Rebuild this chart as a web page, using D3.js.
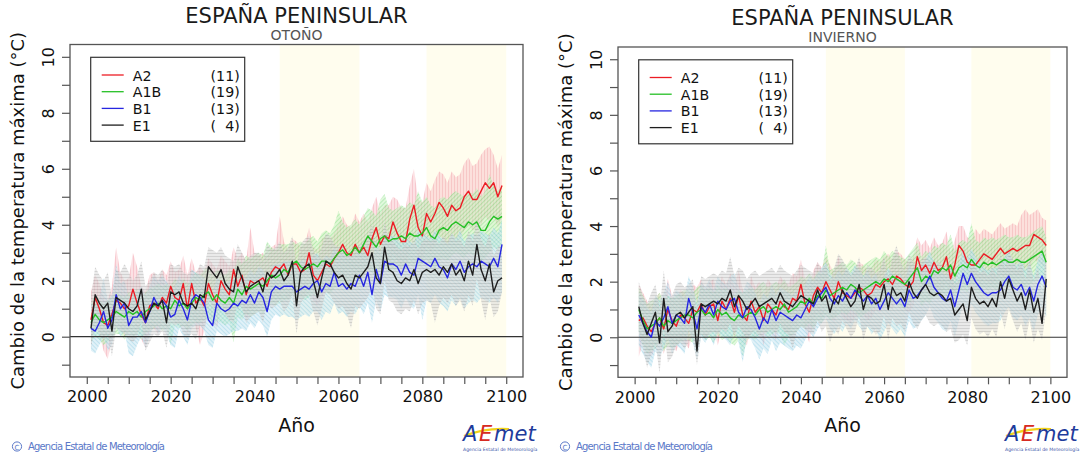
<!DOCTYPE html>
<html>
<head>
<meta charset="utf-8">
<script src="https://cdn.jsdelivr.net/npm/d3@7"></script>
<style>
  body { margin: 0; background: #fff; }
  svg { display: block; }
  text { font-family: 'DejaVu Sans', Verdana, sans-serif; }
</style>
</head>
<body>
<svg id="chart" width="1085" height="458"></svg>
<script>
/* global d3 */

// ---- data ----
const years = d3.range(2001, 2100); // 2001..2099
const scenarios = ['A2', 'A1B', 'B1', 'E1'];
const modelCounts = [11, 19, 13, 4];
const periods = [[2046, 2065], [2081, 2100]];
const xTicks = d3.range(2000, 2101, 5);
const xLabels = [2000, 2020, 2040, 2060, 2080, 2100];
const yTicks = d3.range(-1, 11);
const yLabels = [0, 2, 4, 6, 8, 10];

// OTOÑO
const otonoA2 = [0.6,1.4,1.0,0.5,0.4,0.8,1.3,1.2,1.0,1.1, 1.7,1.2,0.8,0.5,1.1,1.2,1.0,1.4,1.2,1.8, 1.4,1.3,1.9,1.0,1.9,1.2,1.4,1.1,1.9,1.5, 1.2,2.0,1.7,1.5,2.4,1.8,2.2,1.5,2.0,1.9, 2.0,2.1,1.8,2.3,2.5,2.4,2.6,2.2,2.6,2.6, 2.3,2.4,3.0,2.2,2.0,2.3,2.6,2.5,2.8,3.0, 3.3,3.0,2.9,3.3,3.0,3.2,2.9,3.5,3.9,3.3, 3.6,3.5,4.1,3.7,3.4,3.4,4.2,4.7,3.9,3.6, 4.4,4.1,4.4,4.8,4.6,4.3,4.7,4.5,4.6,5.0, 5.2,4.9,4.9,5.2,5.5,5.3,5.5,5.0,5.4];
const otonoA2Hi = [1.6,2.2,1.9,1.4,1.3,1.8,3.2,2.3,2.0,2.1, 3.0,2.5,1.8,1.6,2.2,2.3,2.0,2.4,2.2,2.7, 2.3,2.4,2.9,2.2,2.8,2.3,2.5,2.3,2.8,2.6, 2.4,2.9,2.7,2.5,3.2,2.8,3.0,2.7,3.9,3.0, 2.9,3.0,2.8,3.2,3.3,4.3,3.4,3.1,3.5,3.4, 3.2,3.3,3.9,3.2,3.1,3.5,3.6,3.5,3.7,4.0, 4.3,4.0,3.9,4.4,4.1,4.4,4.1,4.6,5.0,4.4, 4.7,4.7,5.0,4.9,4.6,4.6,5.4,6.0,4.9,4.8, 5.5,5.2,5.6,5.9,5.8,5.5,5.9,5.7,5.8,6.2, 6.4,6.1,6.2,6.5,6.7,6.8,6.5,6.0,6.5];
const otonoA2Lo = [-0.3,0.4,0.1,-0.5,-0.8,-0.1,0.4,0.3,0.0,0.2, 0.6,0.3,-0.1,-0.4,0.2,0.3,0.1,0.5,0.3,0.8, 0.5,0.4,0.9,0.1,0.9,0.3,-0.3,0.2,0.9,0.5, 0.3,1.0,0.8,0.6,1.4,0.9,1.2,0.6,1.0,1.0, 1.1,1.2,0.9,1.3,1.5,1.4,1.6,1.3,1.6,1.6, 1.4,1.5,2.0,1.3,1.1,1.4,1.6,1.6,1.8,2.0, 2.2,2.0,2.0,2.2,2.0,2.2,2.0,2.5,2.8,2.3, 2.6,2.5,3.0,2.7,2.4,2.4,3.1,3.5,2.8,2.6, 3.3,3.0,3.3,3.6,3.5,3.2,3.6,3.4,3.5,3.8, 4.0,3.8,3.8,4.0,4.3,4.1,4.3,3.9,4.2];
const otonoA1B = [0.5,0.8,0.6,0.5,0.6,0.7,0.9,0.8,0.7,0.9, 0.8,0.9,0.7,0.9,1.0,1.1,1.2,1.0,1.1,1.0, 1.3,1.1,1.2,1.0,1.2,1.4,1.3,1.5,1.6,1.3, 1.5,1.3,1.2,1.4,1.2,1.7,1.5,1.8,1.7,1.8, 1.9,1.8,2.0,2.2,2.1,2.2,2.4,2.3,2.6,2.7, 2.5,2.4,2.5,2.6,2.5,2.7,2.7,2.6,2.8,3.0, 3.1,2.9,3.0,3.2,3.0,3.3,3.6,3.4,3.2,3.5, 3.6,3.4,3.5,3.5,3.6,3.5,3.7,3.6,3.6,3.7, 3.9,3.6,3.5,3.8,3.9,3.8,4.0,4.1,4.0,3.9, 4.1,4.0,4.1,3.8,3.8,4.1,4.3,4.2,4.3];
const otonoA1BHi = [1.2,1.5,1.3,1.2,1.3,1.4,1.6,1.5,1.4,1.6, 1.5,1.7,1.4,1.6,1.7,1.8,1.9,1.8,1.9,1.8, 2.1,1.9,2.1,1.9,2.1,2.3,2.2,2.4,2.5,2.2, 2.4,2.3,2.2,2.4,2.3,2.8,2.6,2.9,2.8,2.9, 3.0,2.9,3.4,3.2,3.1,3.3,3.3,3.3,3.4,3.3, 3.4,3.3,3.5,3.6,3.4,3.7,3.8,3.7,4.0,4.5, 4.1,3.9,4.0,4.2,4.0,4.3,4.6,4.5,4.3,4.9, 5.1,4.6,4.5,4.6,4.7,4.6,4.8,4.7,5.2,4.8, 5.0,4.7,4.6,4.9,5.0,4.9,5.1,5.2,5.1,5.0, 5.2,5.1,5.3,5.0,5.2,5.8,5.4,5.2,5.4];
const otonoA1BLo = [-0.2,0.0,-0.1,-0.3,-0.2,0.0,0.1,0.1,-0.1,0.1, 0.0,0.1,-0.1,0.1,0.2,0.3,0.4,0.2,0.3,-0.3, 0.4,0.3,0.4,0.2,0.4,0.5,0.5,0.6,0.7,0.4, 0.6,0.5,0.4,0.5,-0.2,0.7,0.6,0.8,0.7,0.8, 0.9,0.8,1.0,1.2,1.1,1.2,1.3,1.3,1.5,1.6, 1.4,1.3,1.4,1.5,1.4,1.6,1.6,1.5,1.7,1.9, 2.0,1.8,1.9,2.1,1.9,2.2,2.4,2.3,2.1,2.4, 2.5,2.3,2.4,2.4,2.5,2.4,2.6,2.5,2.5,2.6, 2.8,2.5,2.4,2.7,2.8,2.7,2.9,3.0,2.9,2.8, 3.0,2.9,3.0,2.7,2.8,3.0,3.2,3.1,3.2];
const otonoB1 = [0.3,0.2,0.5,0.9,0.3,0.6,1.5,1.0,1.2,0.4, 0.7,0.7,0.9,0.5,0.9,1.4,1.1,1.3,1.1,0.7, 0.8,1.3,1.0,0.6,1.3,1.5,1.4,1.2,0.6,0.4, 1.2,1.0,0.9,1.0,1.2,1.1,1.3,1.2,1.5,1.2, 1.6,1.4,0.9,1.6,1.8,1.7,1.8,1.8,1.8,1.6, 1.7,1.8,1.7,1.9,2.0,1.6,1.9,1.8,2.3,1.8, 1.9,1.7,1.9,1.8,2.2,1.8,2.3,1.5,2.4,1.9, 2.7,2.6,2.6,2.5,2.2,2.6,2.3,2.2,2.8,2.7, 2.6,2.5,2.8,2.5,2.4,2.1,2.6,2.4,2.7,2.3, 2.5,2.6,2.5,2.7,2.6,2.5,2.8,2.5,3.3];
const otonoB1Hi = [1.2,1.1,1.4,2.1,1.3,1.5,2.6,1.9,2.0,1.4, 1.6,1.6,1.8,1.5,1.8,2.2,2.0,2.2,2.0,1.7, 1.8,2.2,1.9,1.6,2.4,2.3,2.2,2.1,1.6,1.5, 2.1,2.0,1.9,2.0,2.1,2.0,2.2,2.1,2.4,2.2, 2.5,2.4,2.0,2.5,2.6,2.6,2.7,2.7,2.7,2.6, 2.7,2.8,2.7,2.9,3.0,2.7,2.9,2.8,3.2,2.9, 3.0,2.8,3.0,2.9,3.2,2.9,3.3,2.7,3.4,3.0, 3.7,3.6,3.6,3.5,3.3,3.6,3.4,3.3,3.8,3.7, 3.6,3.5,3.8,3.6,3.5,3.3,3.7,3.5,3.8,3.4, 3.6,3.7,3.6,3.8,3.7,3.6,3.9,3.7,4.2];
const otonoB1Lo = [-0.5,-0.6,-0.3,0.0,-0.5,-0.3,0.4,0.0,0.2,-0.6, -0.7,-0.3,0.0,-0.4,0.0,0.4,0.1,0.3,0.1,-0.3, -0.4,0.3,0.0,-0.3,0.3,0.4,0.4,0.2,-0.3,-0.4, 0.2,0.1,0.0,0.1,0.2,0.2,0.3,0.2,0.5,0.3, 0.6,0.4,0.0,0.6,0.8,0.7,0.8,0.7,0.7,0.6, 0.7,0.8,0.7,0.9,0.9,0.6,0.9,0.8,1.2,0.8, 0.9,0.7,0.9,0.8,1.1,0.8,1.2,0.5,1.3,0.9, 1.5,1.4,1.4,1.3,1.0,1.4,1.1,1.0,1.5,0.6, 1.3,1.2,1.5,1.2,1.1,0.9,1.3,1.1,1.4,1.0, 1.2,1.3,1.2,1.4,1.3,1.2,1.4,1.2,1.6];
const otonoE1 = [0.3,1.5,1.2,1.0,1.2,0.2,1.4,1.3,1.2,1.0, 0.9,1.1,1.7,0.6,0.9,1.2,1.1,1.3,0.5,1.6, 1.5,1.6,1.2,1.1,1.2,1.0,1.5,1.4,2.5,2.3, 2.1,2.4,1.9,1.7,1.6,2.5,2.1,1.6,1.8,1.9, 2.0,1.6,2.3,2.1,2.2,2.4,2.0,2.2,2.7,1.1, 2.3,2.5,2.6,2.0,1.4,2.1,2.7,2.6,2.3,2.1, 2.2,1.9,1.7,2.2,2.1,2.3,2.5,3.0,2.1,1.9, 3.2,2.4,2.3,2.0,1.9,2.1,2.0,2.4,1.9,2.3, 2.4,2.3,2.4,2.2,2.5,2.3,2.6,2.2,2.4,2.0, 2.7,2.2,3.3,2.4,2.0,2.6,1.6,2.0,2.1];
const otonoE1Hi = [1.4,2.5,2.2,2.0,2.3,1.4,2.4,2.3,2.6,2.3, 2.0,2.2,2.7,1.8,2.0,2.3,2.2,2.4,1.8,2.6, 2.5,2.6,2.3,2.2,2.4,2.2,2.6,2.5,3.2,3.1, 3.0,3.2,2.9,2.8,2.7,3.3,3.0,2.7,2.9,3.0, 3.0,2.7,3.3,3.1,3.2,3.4,3.0,3.2,3.6,2.5, 3.3,3.5,3.6,3.1,2.8,3.2,3.7,3.6,3.3,3.2, 3.3,3.0,2.9,3.3,3.2,3.4,3.6,4.0,3.2,3.1, 4.1,3.5,3.4,3.2,3.1,3.3,3.2,3.5,3.1,3.4, 3.5,3.4,3.5,3.3,3.6,3.4,3.7,3.4,3.5,3.2, 3.8,3.4,4.2,3.5,3.2,3.7,2.9,3.2,3.3];
const otonoE1Lo = [-0.4,0.4,0.1,-0.1,0.1,-0.7,0.3,0.2,0.1,-0.1, -0.2,0.0,0.6,-0.5,-0.2,0.1,0.0,0.2,-0.4,0.5, 0.4,0.5,0.1,0.0,0.1,-0.1,0.4,0.3,1.3,1.1, 0.9,1.2,0.8,0.6,0.5,1.3,1.0,0.5,0.7,0.8, 0.9,0.5,1.2,1.0,1.1,1.3,0.9,1.1,1.5,0.1, 1.2,1.4,1.5,0.9,0.4,1.0,1.6,1.5,1.2,1.0, 1.1,0.8,0.3,1.1,1.0,1.2,1.4,1.8,1.0,0.8, 2.0,1.3,1.2,0.9,0.8,1.0,0.9,1.3,0.8,1.2, 1.3,1.2,0.5,1.1,1.4,1.2,1.5,1.1,1.3,0.9, 1.5,1.1,2.1,1.3,0.6,1.4,0.7,0.9,1.6];

// INVIERNO
const inviernoA2 = [0.6,0.7,0.4,0.2,0.5,0.7,0.3,1.0,0.6,0.4, 0.8,0.7,0.5,1.0,0.9,1.2,0.8,1.1,1.2,0.6, 1.3,1.0,1.4,0.9,1.5,0.8,0.6,1.3,0.9,1.1, 0.6,1.2,1.0,0.8,1.3,1.1,1.0,1.4,1.3,1.9, 1.2,0.9,1.5,1.8,1.6,2.0,1.7,1.4,2.0,1.6, 1.5,1.4,1.6,1.8,1.7,1.5,1.6,1.9,1.8,2.0, 2.1,1.9,2.2,2.1,1.9,1.8,2.0,2.9,2.4,2.6, 2.3,2.7,2.4,2.5,2.9,2.1,2.6,3.3,3.1,2.7, 2.6,2.6,2.8,3.0,2.9,2.8,3.0,3.2,3.0,3.1, 3.2,3.1,3.2,3.3,3.3,3.7,3.6,3.5,3.3];
const inviernoA2Hi = [1.9,1.6,1.3,1.1,1.4,1.6,1.2,2.1,1.5,1.3, 1.7,1.6,1.4,1.9,1.8,2.1,1.7,2.0,2.1,1.5, 2.2,1.9,2.3,1.8,2.4,1.7,1.5,2.2,1.8,2.0, 1.5,2.1,1.9,1.7,2.2,2.0,1.9,2.3,2.2,2.8, 2.1,1.8,2.4,2.7,2.5,2.9,2.6,2.3,2.9,2.5, 2.4,2.3,2.5,2.7,2.6,2.4,2.5,2.8,2.7,2.9, 3.0,2.8,3.1,3.0,2.8,2.7,2.9,3.6,3.3,3.5, 3.2,3.6,3.3,3.4,3.8,3.0,3.5,4.0,4.0,3.6, 3.5,3.9,3.7,3.9,3.8,3.7,3.9,4.1,3.9,4.0, 4.1,4.0,4.4,4.6,4.4,4.5,4.6,4.3,4.2];
const inviernoA2Lo = [-0.7,-0.2,-0.5,-0.7,-0.4,-0.2,-0.6,0.1,-0.3,-0.5, -0.1,-0.2,-0.4,0.1,0.0,0.3,-0.1,0.2,0.3,-0.3, 0.4,0.1,0.5,0.0,0.6,-0.1,-0.3,0.4,0.0,0.2, -0.3,0.3,0.1,-0.1,0.4,0.2,0.1,0.5,0.4,1.0, 0.3,-0.2,0.6,0.9,0.7,1.1,0.8,0.5,1.1,0.7, 0.6,0.5,0.7,0.9,0.8,0.6,0.7,1.0,0.9,1.1, 1.2,1.0,1.3,1.2,1.0,0.9,1.1,2.0,1.5,1.7, 1.4,1.8,1.5,1.6,2.0,1.2,1.7,2.4,2.2,1.8, 1.7,1.7,1.9,2.1,2.0,1.9,2.1,2.3,2.1,2.2, 2.3,2.2,2.3,2.4,2.4,2.8,2.7,2.6,2.4];
const inviernoA1B = [1.0,0.6,0.3,0.4,0.5,0.7,0.4,0.6,0.5,0.6, 0.7,0.8,0.8,0.7,0.9,1.0,0.8,0.9,0.7,1.0, 0.8,0.9,0.7,0.6,0.8,0.7,0.8,0.9,0.8,1.0, 1.1,0.9,1.0,1.1,1.0,1.2,0.9,1.0,1.1,1.3, 1.2,1.4,1.2,1.5,1.4,1.7,1.5,1.6,1.7,1.8, 1.7,1.9,1.8,1.6,1.7,1.8,1.9,2.0,1.9,2.1, 2.0,2.2,2.1,2.0,1.9,2.1,2.3,2.5,2.0,2.2, 2.1,2.4,2.3,2.5,2.4,2.6,2.2,2.5,2.6,2.5, 2.8,2.6,2.5,2.7,2.6,2.7,2.6,2.7,2.8,2.7, 2.7,2.8,2.7,2.7,2.8,2.9,3.0,3.1,2.7];
const inviernoA1BHi = [1.8,1.5,1.2,1.3,1.4,1.6,1.3,1.5,1.4,1.5, 1.6,1.7,1.7,1.6,1.8,1.9,1.7,1.8,1.6,1.9, 1.7,1.8,1.6,1.5,1.7,1.6,1.7,1.8,1.7,1.9, 2.0,1.8,1.9,2.0,1.9,2.1,1.8,1.9,2.0,2.2, 2.1,2.3,2.1,2.4,2.3,3.3,2.4,2.5,2.6,2.7, 2.6,2.8,2.7,2.5,2.6,2.7,2.8,2.9,2.8,3.1, 2.9,3.1,3.0,2.9,2.8,3.0,3.2,3.4,2.9,3.1, 3.0,3.3,3.2,3.4,3.3,3.7,3.1,3.4,3.5,3.4, 4.1,3.5,3.4,3.6,3.5,3.6,3.5,3.6,3.7,3.6, 3.6,3.7,3.6,3.6,3.7,3.8,3.9,4.0,3.6];
const inviernoA1BLo = [0.2,-0.3,-0.6,-0.5,-0.4,-0.2,-0.5,-0.3,-0.4,-0.3, -0.2,-0.1,-0.1,-0.2,0.0,0.1,-0.1,0.0,-0.2,0.1, -0.1,0.0,-0.2,-0.3,-0.1,-0.7,-0.1,0.0,-0.1,0.1, 0.2,0.0,0.1,0.2,0.1,-0.3,0.0,0.1,0.2,0.4, 0.3,0.5,0.3,0.6,0.5,0.8,0.6,0.7,0.8,0.9, 0.8,1.0,0.9,0.7,0.8,0.9,1.0,1.1,1.0,1.2, 1.1,1.3,1.2,1.1,1.0,1.2,1.4,1.6,1.1,1.3, 1.2,1.5,1.4,1.6,1.5,1.7,1.3,1.6,1.7,1.6, 1.9,1.7,1.6,1.8,1.7,1.8,1.7,1.8,1.9,1.8, 1.8,1.9,1.8,1.8,1.9,2.0,2.1,2.2,1.8];
const inviernoB1 = [0.8,0.5,0.2,0.0,0.6,0.4,0.7,1.1,0.5,0.8, 0.7,0.5,1.4,0.9,0.3,1.1,0.9,1.2,0.8,1.3, 1.1,1.0,1.3,1.4,0.9,0.7,1.1,1.0,0.7,0.3, 0.7,0.5,1.0,0.6,0.9,0.8,0.7,0.6,0.8,0.7, 1.0,1.3,1.1,1.4,1.6,1.8,1.4,1.2,1.5,1.3, 1.6,1.4,1.7,1.5,1.3,1.5,1.2,1.4,1.0,1.3, 1.6,1.4,1.2,1.4,1.1,1.7,1.4,1.5,1.7,1.9, 2.2,1.8,1.6,1.4,1.3,1.7,1.1,1.7,2.3,1.9, 2.3,2.0,1.8,1.6,1.5,1.6,1.6,1.7,2.0,2.2, 1.8,1.7,1.9,1.5,1.8,1.3,1.9,2.2,1.8];
const inviernoB1Hi = [1.6,1.4,1.1,0.9,1.5,1.3,1.6,2.0,1.4,1.7, 1.6,1.4,2.2,1.8,1.2,2.0,1.8,2.1,1.7,2.2, 2.0,1.9,2.2,2.3,1.8,1.6,2.0,1.9,1.6,1.2, 1.6,1.4,1.9,1.5,1.8,1.7,1.6,1.5,1.7,1.6, 1.9,2.2,2.0,2.3,2.5,2.7,2.3,2.1,2.4,2.2, 2.5,2.3,2.6,2.4,2.2,2.4,2.1,2.3,1.9,2.2, 2.5,2.3,2.1,2.3,2.0,2.6,2.3,2.4,2.6,2.8, 3.1,2.7,2.5,2.3,2.2,2.6,2.0,2.6,3.2,2.8, 3.2,2.9,2.7,2.5,2.4,2.5,2.5,2.6,2.9,3.1, 2.7,2.6,2.8,2.4,2.7,2.2,2.8,3.1,2.7];
const inviernoB1Lo = [-0.3,-0.6,-0.9,-1.1,-0.5,-0.7,-0.4,0.0,-0.6,-0.3, -0.4,-0.6,0.3,-0.2,-0.8,0.0,-0.2,0.1,-0.3,0.2, 0.0,-0.1,-0.3,0.3,-0.2,-0.9,0.0,-0.1,-0.4,-0.8, -0.4,-0.6,-0.1,-0.5,-0.2,-0.3,-0.4,-0.5,-0.3,-0.4, -0.1,0.2,0.0,0.3,0.5,0.7,0.3,0.1,0.4,0.2, 0.5,0.3,0.6,0.4,0.2,0.4,0.1,0.3,-0.1,0.2, 0.5,0.3,0.1,0.3,0.0,0.6,0.3,0.4,0.6,0.8, 1.1,0.7,0.5,0.3,0.2,0.6,0.0,0.6,1.2,0.8, 1.2,0.9,0.7,0.5,0.4,0.5,0.5,0.6,0.9,1.1, 0.7,0.6,0.8,0.4,0.7,0.2,0.8,1.1,0.7];
const inviernoE1 = [1.1,0.5,0.1,0.5,0.9,-0.2,1.4,0.2,0.4,0.8, 0.9,0.7,0.9,1.1,-0.5,1.2,1.1,1.2,1.3,1.2, 1.4,1.3,1.7,1.1,1.5,1.3,1.0,1.2,1.4,1.1, 1.2,1.3,1.4,1.2,1.6,1.3,1.2,1.1,1.3,1.5, 1.4,1.3,1.2,1.7,1.3,1.5,0.9,1.4,1.2,1.7, 1.4,1.1,1.3,1.9,1.0,1.5,1.4,1.2,1.3,1.9, 1.0,1.8,1.5,1.6,1.3,2.0,1.6,1.4,1.7,1.9, 1.6,1.5,1.6,1.5,1.3,1.4,0.8,1.0,1.2,0.6, 1.8,1.4,1.2,1.3,1.1,1.4,1.1,2.0,1.4,2.1, 1.7,1.3,1.6,1.0,1.7,0.9,1.4,0.5,2.1];
const inviernoE1Hi = [2.0,1.5,1.2,1.6,1.9,1.0,2.4,1.3,1.5,1.9, 2.0,1.8,1.9,2.1,0.8,2.2,2.1,2.2,2.3,2.2, 2.4,2.3,2.9,2.2,2.5,2.4,2.1,2.3,2.4,2.2, 2.3,2.4,2.5,2.3,2.6,2.4,2.3,2.2,2.4,2.6, 2.5,2.4,2.3,2.7,2.4,2.6,2.0,2.5,3.0,2.8, 2.5,2.2,2.4,2.9,2.1,2.6,2.5,2.3,2.4,2.9, 2.1,2.9,3.3,2.7,2.4,3.0,2.7,2.5,2.8,2.9, 2.7,2.6,2.7,2.6,2.4,2.5,1.9,2.1,2.3,1.7, 2.8,2.5,2.3,2.4,2.2,2.5,2.2,3.0,2.5,3.1, 2.8,2.4,2.7,2.1,2.8,2.0,2.5,1.6,3.0];
const inviernoE1Lo = [0.2,-0.4,-1.1,-0.6,-0.2,-1.3,0.4,-0.9,-0.7,-0.3, -0.2,-0.4,-0.2,0.0,-1.0,0.1,0.0,0.1,0.2,0.1, 0.3,0.2,0.5,0.0,0.4,0.2,-0.1,0.1,0.3,0.0, 0.1,0.2,0.3,0.1,0.5,0.2,0.1,-0.4,0.2,0.4, 0.3,0.2,0.1,0.6,0.2,0.4,-0.2,0.3,0.1,0.6, 0.3,0.0,0.2,0.8,-0.1,0.4,0.3,0.1,0.2,0.8, -0.1,0.7,0.4,0.5,0.2,0.9,0.5,0.3,0.6,0.8, 0.5,0.4,0.5,0.4,0.2,0.3,-0.2,-0.1,0.1,-0.3, 0.7,0.3,0.1,0.2,0.0,0.3,0.0,0.9,0.3,1.0, 0.6,0.2,0.5,-0.1,0.6,-0.2,0.3,-0.1,1.0];

const COLORS = {
  A2: { line: '#ec1c24', fill: '#fac8ce', hatch: '#f19aa5', angle: 0 },
  A1B: { line: '#25c025', fill: '#c6f2c0', hatch: '#7fdc7f', angle: 45 },
  B1: { line: '#2626e0', fill: '#c6e6f2', hatch: '#8ccbe2', angle: -45 },
  E1: { line: '#1e1e1e', fill: '#d8d8d8', hatch: '#adadad', angle: 90 },
};

const panels = [
  {
    title: 'ESPAÑA PENINSULAR', subtitle: 'OTOÑO',
    left: 70, right: 523, top: 44.5, bottom: 377, titleY: 23, subY: 40,
    mean: [otonoA2, otonoA1B, otonoB1, otonoE1],
    lo: [otonoA2Lo, otonoA1BLo, otonoB1Lo, otonoE1Lo],
    hi: [otonoA2Hi, otonoA1BHi, otonoB1Hi, otonoE1Hi],
    logoX: 463,
  },
  {
    title: 'ESPAÑA PENINSULAR', subtitle: 'INVIERNO',
    left: 618, right: 1067, top: 47, bottom: 377.3, titleY: 25, subY: 42,
    mean: [inviernoA2, inviernoA1B, inviernoB1, inviernoE1],
    lo: [inviernoA2Lo, inviernoA1BLo, inviernoB1Lo, inviernoE1Lo],
    hi: [inviernoA2Hi, inviernoA1BHi, inviernoB1Hi, inviernoE1Hi],
    logoX: 1005,
  },
];

// sanity check: every series must have one value per year
panels.forEach((p) => {
  [...p.mean, ...p.lo, ...p.hi].forEach((arr, i) => {
    if (arr.length !== years.length) throw new Error(p.subtitle + ' series ' + i + ' has ' + arr.length);
  });
});

const svg = d3.select('#chart');
const defs = svg.append('defs');

// hatch pattern per scenario
scenarios.forEach((s) => {
  const c = COLORS[s];
  const pat = defs
    .append('pattern')
    .attr('id', 'hatch-' + s)
    .attr('patternUnits', 'userSpaceOnUse')
    .attr('width', 3)
    .attr('height', 3)
    .attr('patternTransform', `rotate(${c.angle})`);
  pat.append('rect').attr('width', 3).attr('height', 3).attr('fill', c.fill);
  pat
    .append('line')
    .attr('x1', 1.5).attr('y1', 0).attr('x2', 1.5).attr('y2', 3)
    .attr('stroke', c.hatch)
    .attr('stroke-width', 1);
});

function drawPanel(p) {
  const x = d3.scaleLinear().domain([1996, 2104]).range([p.left, p.right]);
  const y = d3.scaleLinear().domain([-1.44, 10.44]).range([p.bottom, p.top]);
  const g = svg.append('g');
  const cx = (p.left + p.right) / 2;

  // reference periods
  g.append('g')
    .selectAll('rect')
    .data(periods)
    .join('rect')
    .attr('x', (d) => x(d[0]))
    .attr('width', (d) => x(d[1]) - x(d[0]))
    .attr('y', p.top)
    .attr('height', p.bottom - p.top)
    .attr('fill', '#fffdee');

  // spread bands
  const area = d3
    .area()
    .x((d) => x(d.year))
    .y0((d) => y(d.lo))
    .y1((d) => y(d.hi));

  scenarios.forEach((s, k) => {
    const rows = years.map((yr, i) => ({ year: yr, lo: p.lo[k][i], hi: p.hi[k][i] }));
    g.append('path')
      .datum(rows)
      .attr('d', area)
      .attr('fill', `url(#hatch-${s})`)
      .attr('opacity', 0.55);
  });

  // zero line
  g.append('line')
    .attr('x1', p.left).attr('x2', p.right)
    .attr('y1', y(0)).attr('y2', y(0))
    .attr('stroke', '#333')
    .attr('stroke-width', 1.2);

  // mean lines
  const line = d3
    .line()
    .x((d, i) => x(years[i]))
    .y((d) => y(d));

  scenarios.forEach((s, k) => {
    g.append('path')
      .datum(p.mean[k])
      .attr('d', line)
      .attr('fill', 'none')
      .attr('stroke', COLORS[s].line)
      .attr('stroke-width', 1.4)
      .attr('stroke-linejoin', 'round');
  });

  // box
  g.append('rect')
    .attr('x', p.left).attr('y', p.top)
    .attr('width', p.right - p.left).attr('height', p.bottom - p.top)
    .attr('fill', 'none')
    .attr('stroke', '#555')
    .attr('stroke-width', 1.3);

  // x axis
  const xAxis = g
    .append('g')
    .attr('transform', `translate(0,${p.bottom})`)
    .call(
      d3.axisBottom(x)
        .tickValues(xTicks)
        .tickSize(7)
        .tickFormat((d) => (xLabels.includes(d) ? d : ''))
    );
  xAxis.select('.domain').remove();
  xAxis.selectAll('line').attr('stroke', '#555').attr('stroke-width', 1.2);
  xAxis.selectAll('text')
    .attr('y', 14)
    .attr('font-size', 16)
    .attr('font-family', 'DejaVu Sans')
    .attr('fill', '#111');

  // y axis
  const yAxis = g
    .append('g')
    .attr('transform', `translate(${p.left},0)`)
    .call(
      d3.axisLeft(y)
        .tickValues(yTicks)
        .tickSize(8)
        .tickFormat((d) => (yLabels.includes(d) ? d : ''))
    );
  yAxis.select('.domain').remove();
  yAxis.selectAll('line').attr('stroke', '#555').attr('stroke-width', 1.2);
  yAxis.selectAll('text')
    .attr('x', null)
    .attr('dy', null)
    .attr('text-anchor', 'middle')
    .attr('transform', 'translate(-16,0) rotate(-90)')
    .attr('font-size', 16)
    .attr('font-family', 'DejaVu Sans')
    .attr('fill', '#111');

  // titles
  svg.append('text')
    .attr('x', cx).attr('y', p.titleY)
    .attr('text-anchor', 'middle')
    .attr('font-size', 21)
    .attr('fill', '#1a1a1a')
    .text(p.title);
  svg.append('text')
    .attr('x', cx).attr('y', p.subY)
    .attr('text-anchor', 'middle')
    .attr('font-size', 14)
    .attr('fill', '#555')
    .text(p.subtitle);

  svg.append('text')
    .attr('transform', `translate(${p.left - 46},${(p.top + p.bottom) / 2}) rotate(-90)`)
    .attr('text-anchor', 'middle')
    .attr('font-size', 18)
    .attr('fill', '#111')
    .text('Cambio de la temperatura máxima (°C)');

  svg.append('text')
    .attr('x', cx).attr('y', 432)
    .attr('text-anchor', 'middle')
    .attr('font-size', 19)
    .attr('fill', '#111')
    .text('Año');

  // legend
  const lx = p.left + 20.7;
  const ly = p.top + 12.8;
  const leg = svg.append('g').attr('transform', `translate(${lx},${ly})`);
  leg.append('rect')
    .attr('width', 154).attr('height', 84)
    .attr('fill', '#fff')
    .attr('stroke', '#333')
    .attr('stroke-width', 1.2);
  const item = leg
    .selectAll('g.item')
    .data(scenarios)
    .join('g')
    .attr('class', 'item')
    .attr('transform', (d, i) => `translate(0,${17.7 + i * 16.7})`);
  item.append('line')
    .attr('x1', 11).attr('x2', 33)
    .attr('stroke', (d) => COLORS[d].line)
    .attr('stroke-width', 1.3);
  item.append('text')
    .attr('x', 42).attr('y', 5.5)
    .attr('font-size', 14.2)
    .attr('fill', '#111')
    .text((d) => d);
  item.append('text')
    .attr('x', 149).attr('y', 5.5)
    .attr('text-anchor', 'end')
    .attr('font-size', 14.2)
    .attr('fill', '#111')
    .style('white-space', 'pre')
    .text((d, i) => '(' + String(modelCounts[i]).padStart(2, '\u2007') + ')');

  // credit line
  const cr = p.left - 58;
  svg.append('circle')
    .attr('cx', cr + 5).attr('cy', 446.5).attr('r', 4.6)
    .attr('fill', 'none').attr('stroke', '#5a78c8').attr('stroke-width', 1);
  svg.append('text')
    .attr('x', cr + 5).attr('y', 449.5)
    .attr('text-anchor', 'middle')
    .attr('font-size', 7)
    .attr('font-family', 'Liberation Sans')
    .attr('fill', '#5a78c8')
    .text('C');
  svg.append('text')
    .attr('x', cr + 16).attr('y', 450)
    .attr('font-size', 10)
    .attr('font-family', 'Liberation Sans')
    .attr('fill', '#5a78c8')
    .attr('textLength', 137)
    .text('Agencia Estatal de Meteorología');

  // AEMET logo: three pieces side by side, with the yellow swoosh
  const lg = svg.append('g').attr('transform', `translate(${p.logoX},0)`);
  lg.append('path')
    .attr('d', 'M1,436 C16,430 30,428 46,429')
    .attr('fill', 'none').attr('stroke', '#f2d21b').attr('stroke-width', 2.2);
  const logoParts = [
    { t: 'A', dx: 0, c: '#1f3c9c' },
    { t: 'E', dx: 16, c: '#d62a22' },
    { t: 'met', dx: 31, c: '#1f3c9c' },
  ];
  lg.selectAll('text.logo')
    .data(logoParts)
    .join('text')
    .attr('class', 'logo')
    .attr('x', (d) => d.dx)
    .attr('y', 441)
    .attr('font-size', 21)
    .attr('font-style', 'italic')
    .attr('fill', (d) => d.c)
    .text((d) => d.t);
  lg.append('text')
    .attr('x', 0).attr('y', 451)
    .attr('font-size', 4.6)
    .attr('font-family', 'Liberation Sans')
    .attr('fill', '#3a56a8')
    .text('Agencia Estatal de Meteorología');
}

panels.forEach(drawPanel);
</script>
</body>
</html>
